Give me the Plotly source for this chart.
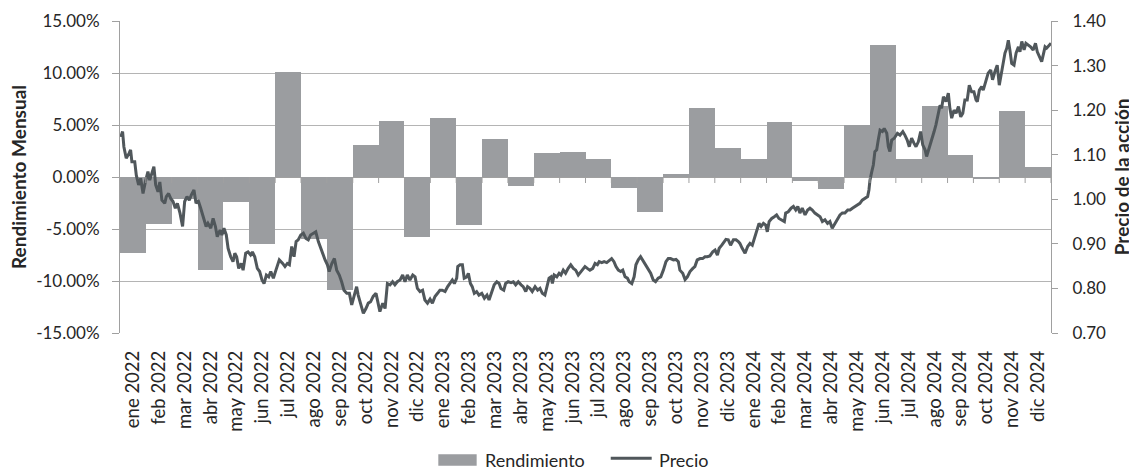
import plotly.graph_objects as go

meses = ["ene", "feb", "mar", "abr", "may", "jun", "jul", "ago", "sep", "oct", "nov", "dic"]
anios = [2022, 2023, 2024]
categorias = [f"{m} {a}" for a in anios for m in meses]

# Monthly return (%)
rendimiento = [-7.3, -4.5, -2.1, -8.9, -2.4, -6.4, 10.1, -6.0, -10.9, 3.1, 5.4, -5.8,
               5.7, -4.6, 3.7, -0.9, 2.3, 2.4, 1.7, -1.1, -3.4, 0.3, 6.6, 2.8,
               1.7, 5.3, -0.35, -1.2, 5.0, 12.7, 1.7, 6.8, 2.1, -0.1, 6.3, 1.0]

# Share price: time in months since start of 2022, and price
mes_precio = [0.03, 0.10, 0.15, 0.24, 0.35, 0.41, 0.46, 0.57, 0.63, 0.72, 0.80, 0.89, 0.98, 1.08, 1.15, 1.21,
              1.31, 1.38, 1.47, 1.54, 1.62, 1.73, 1.79, 1.88, 1.96, 2.05, 2.14, 2.22, 2.32, 2.42, 2.50, 2.59,
              2.68, 2.76, 2.86, 2.94, 3.02, 3.12, 3.22, 3.33, 3.40, 3.51, 3.60, 3.69, 3.76, 3.87, 3.94, 4.02,
              4.11, 4.18, 4.28, 4.37, 4.44, 4.51, 4.59, 4.69, 4.76, 4.86, 4.95, 5.05, 5.12, 5.21, 5.31, 5.40,
              5.49, 5.57, 5.66, 5.75, 5.83, 5.93, 6.03, 6.16, 6.29, 6.38, 6.47, 6.55, 6.64, 6.73, 6.81, 6.89,
              6.99, 7.09, 7.19, 7.28, 7.37, 7.47, 7.57, 7.67, 7.76, 7.84, 7.93, 8.02, 8.09, 8.19, 8.29, 8.38,
              8.48, 8.57, 8.66, 8.77, 8.87, 8.96, 9.05, 9.15, 9.21, 9.31, 9.41, 9.51, 9.60, 9.69, 9.79, 9.90,
              9.95, 10.05, 10.16, 10.25, 10.34, 10.44, 10.54, 10.63, 10.72, 10.83, 10.93, 11.02, 11.11, 11.21,
              11.32, 11.41, 11.50, 11.60, 11.70, 11.79, 11.89, 11.99, 12.08, 12.18, 12.28, 12.37, 12.46, 12.57,
              12.67, 12.76, 12.85, 12.93, 13.02, 13.06, 13.15, 13.24, 13.31, 13.41, 13.47, 13.55, 13.62, 13.70,
              13.79, 13.88, 13.99, 14.09, 14.19, 14.27, 14.37, 14.47, 14.57, 14.66, 14.73, 14.84, 14.91, 15.01,
              15.12, 15.21, 15.30, 15.40, 15.51, 15.59, 15.69, 15.76, 15.85, 15.94, 16.05, 16.15, 16.24, 16.33,
              16.43, 16.51, 16.59, 16.67, 16.72, 16.79, 16.89, 16.98, 17.05, 17.14, 17.23, 17.33, 17.43, 17.53,
              17.62, 17.72, 17.83, 17.92, 17.98, 18.07, 18.17, 18.28, 18.37, 18.46, 18.53, 18.63, 18.72, 18.82,
              18.92, 19.01, 19.10, 19.18, 19.27, 19.36, 19.44, 19.53, 19.62, 19.69, 19.79, 19.88, 19.95, 20.04,
              20.13, 20.24, 20.34, 20.43, 20.52, 20.62, 20.71, 20.81, 20.91, 21.01, 21.11, 21.20, 21.29, 21.40,
              21.50, 21.59, 21.65, 21.76, 21.85, 21.94, 22.04, 22.15, 22.23, 22.32, 22.43, 22.53, 22.62, 22.71,
              22.81, 22.92, 23.01, 23.10, 23.17, 23.27, 23.36, 23.43, 23.52, 23.61, 23.72, 23.82, 23.91, 23.97,
              24.06, 24.17, 24.27, 24.36, 24.45, 24.53, 24.62, 24.71, 24.79, 24.88, 24.97, 25.03, 25.10, 25.20,
              25.30, 25.39, 25.48, 25.59, 25.69, 25.74, 25.84, 25.95, 26.04, 26.13, 26.21, 26.29, 26.38, 26.49,
              26.59, 26.68, 26.77, 26.87, 26.98, 27.07, 27.16, 27.26, 27.36, 27.45, 27.54, 27.64, 27.75, 27.84,
              27.93, 28.03, 28.14, 28.23, 28.32, 28.42, 28.52, 28.61, 28.70, 28.81, 28.91, 28.96, 29.00, 29.07,
              29.13, 29.19, 29.26, 29.32, 29.39, 29.48, 29.55, 29.65, 29.71, 29.77, 29.84, 29.94, 30.06, 30.16,
              30.27, 30.35, 30.44, 30.52, 30.61, 30.70, 30.78, 30.87, 30.96, 31.04, 31.13, 31.19, 31.29, 31.39,
              31.48, 31.55, 31.64, 31.71, 31.77, 31.84, 31.94, 32.03, 32.09, 32.16, 32.25, 32.33, 32.42, 32.51,
              32.59, 32.67, 32.76, 32.84, 32.93, 33.02, 33.10, 33.15, 33.23, 33.32, 33.38, 33.49, 33.57, 33.67,
              33.74, 33.83, 33.92, 34.00, 34.09, 34.15, 34.22, 34.29, 34.35, 34.41, 34.48, 34.57, 34.65, 34.74,
              34.80, 34.87, 34.96, 35.03, 35.12, 35.21, 35.31, 35.40, 35.47, 35.57, 35.64, 35.70, 35.77, 35.83,
              35.93, 36.00]

precio = [1.140, 1.152, 1.118, 1.092, 1.103, 1.111, 1.084, 1.084, 1.054, 1.032, 1.047, 1.013, 1.039, 1.062, 1.043, 1.054,
          1.073, 1.032, 1.017, 1.039, 0.998, 0.991, 1.006, 1.013, 1.002, 0.995, 0.980, 0.991, 0.969, 0.939, 0.995, 1.006,
          0.998, 1.010, 1.021, 0.991, 0.998, 0.980, 0.961, 0.939, 0.946, 0.935, 0.957, 0.939, 0.916, 0.931, 0.920, 0.935,
          0.920, 0.890, 0.871, 0.860, 0.879, 0.871, 0.845, 0.856, 0.841, 0.879, 0.882, 0.875, 0.882, 0.871, 0.845, 0.838,
          0.819, 0.811, 0.830, 0.826, 0.838, 0.823, 0.841, 0.864, 0.856, 0.849, 0.856, 0.853, 0.894, 0.871, 0.905, 0.909,
          0.920, 0.924, 0.912, 0.909, 0.920, 0.924, 0.927, 0.905, 0.890, 0.875, 0.864, 0.853, 0.838, 0.856, 0.867, 0.841,
          0.830, 0.815, 0.796, 0.789, 0.789, 0.763, 0.782, 0.804, 0.785, 0.763, 0.744, 0.755, 0.767, 0.770, 0.782, 0.789,
          0.774, 0.748, 0.767, 0.755, 0.811, 0.808, 0.815, 0.808, 0.815, 0.819, 0.830, 0.815, 0.830, 0.819,
          0.830, 0.826, 0.800, 0.793, 0.796, 0.774, 0.767, 0.776, 0.767, 0.782, 0.789, 0.796, 0.796, 0.793,
          0.804, 0.811, 0.819, 0.811, 0.823, 0.849, 0.853, 0.853, 0.823, 0.826, 0.834, 0.811, 0.804, 0.789,
          0.793, 0.785, 0.789, 0.778, 0.785, 0.774, 0.793, 0.808, 0.815, 0.811, 0.800, 0.796, 0.811, 0.815,
          0.813, 0.815, 0.808, 0.815, 0.808, 0.804, 0.793, 0.804, 0.800, 0.793, 0.804, 0.796, 0.800, 0.789,
          0.785, 0.804, 0.823, 0.826, 0.811, 0.830, 0.826, 0.834, 0.830, 0.841, 0.834, 0.845, 0.853, 0.845,
          0.841, 0.830, 0.838, 0.845, 0.849, 0.845, 0.841, 0.845, 0.856, 0.853, 0.860, 0.858, 0.860, 0.858,
          0.862, 0.867, 0.860, 0.849, 0.841, 0.838, 0.841, 0.826, 0.823, 0.815, 0.811, 0.826, 0.853, 0.864,
          0.871, 0.860, 0.849, 0.841, 0.834, 0.819, 0.815, 0.823, 0.826, 0.841, 0.860, 0.867, 0.867, 0.864,
          0.865, 0.860, 0.841, 0.834, 0.820, 0.826, 0.838, 0.845, 0.849, 0.864, 0.867, 0.867, 0.871, 0.871,
          0.873, 0.882, 0.886, 0.875, 0.890, 0.897, 0.905, 0.910, 0.909, 0.897, 0.909, 0.909, 0.905, 0.901,
          0.890, 0.879, 0.894, 0.901, 0.897, 0.912, 0.931, 0.946, 0.939, 0.946, 0.942, 0.927, 0.950, 0.957,
          0.961, 0.965, 0.957, 0.954, 0.950, 0.969, 0.972, 0.980, 0.984, 0.976, 0.984, 0.969, 0.980, 0.965,
          0.976, 0.980, 0.976, 0.969, 0.965, 0.961, 0.950, 0.954, 0.946, 0.950, 0.935, 0.946, 0.957, 0.965,
          0.969, 0.969, 0.976, 0.976, 0.980, 0.984, 0.987, 0.991, 0.998, 1.002, 1.006, 1.021, 1.043, 1.062,
          1.077, 1.107, 1.111, 1.133, 1.155, 1.152, 1.159, 1.148, 1.118, 1.107, 1.133, 1.137, 1.148, 1.144,
          1.152, 1.144, 1.133, 1.118, 1.137, 1.126, 1.118, 1.129, 1.152, 1.122, 1.111, 1.096, 1.114, 1.137,
          1.152, 1.167, 1.197, 1.211, 1.204, 1.230, 1.219, 1.238, 1.204, 1.182, 1.200, 1.193, 1.208, 1.185,
          1.193, 1.223, 1.223, 1.256, 1.241, 1.241, 1.223, 1.219, 1.245, 1.253, 1.245, 1.268, 1.283, 1.290,
          1.268, 1.286, 1.301, 1.256, 1.283, 1.309, 1.328, 1.339, 1.357, 1.335, 1.305, 1.301, 1.328, 1.342,
          1.331, 1.354, 1.335, 1.350, 1.346, 1.342, 1.335, 1.350, 1.331, 1.316, 1.309, 1.324, 1.342, 1.339,
          1.346, 1.350]

pct_ticks = [-15, -10, -5, 0, 5, 10, 15]
pct_labels = [f"{v:.2f}%" for v in pct_ticks]
precio_ticks = [0.70, 0.80, 0.90, 1.00, 1.10, 1.20, 1.30, 1.40]
precio_labels = [f"{v:.2f}" for v in precio_ticks]

FONT = "Lato"
TXT = "#262626"
BAR = "#9b9da0"
LINE = "#50575b"
GRID = "#b4b4b4"
AX = "#a0a0a0"

fig = go.Figure()
fig.add_trace(go.Bar(x=categorias, y=rendimiento, name="Rendimiento",
                     marker=dict(color=BAR, line=dict(width=0)),
                     xaxis="x", yaxis="y"))
fig.add_trace(go.Scatter(x=mes_precio, y=precio, name="Precio", mode="lines",
                         line=dict(color=LINE, width=3),
                         xaxis="x2", yaxis="y2"))

# Category-axis tick marks on the 0% line at month boundaries (axis furniture)
shapes = [dict(type="line", xref="x2", yref="y", ysizemode="pixel", yanchor=0,
               x0=k, x1=k, y0=0, y1=-6, line=dict(color=AX, width=1), layer="above")
          for k in range(len(categorias) + 1)]

# Legend drawn as shapes + text below the plot (paper coordinates)
leg_y = -0.407
shapes += [
    dict(type="rect", xref="paper", yref="paper", x0=0.3419, x1=0.3831, y0=-0.4253, y1=-0.3888,
         fillcolor=BAR, line=dict(width=0)),
    dict(type="line", xref="paper", yref="paper", x0=0.5271, x1=0.5711, y0=-0.4016, y1=-0.4016,
         line=dict(color=LINE, width=3)),
]

fig.update_layout(
    width=1129, height=462,
    margin=dict(l=112, r=86, t=13, b=137, autoexpand=False),
    paper_bgcolor="white", plot_bgcolor="white",
    bargap=0,
    font=dict(family=FONT, size=16, color=TXT),
    showlegend=False,
    shapes=shapes,
    xaxis=dict(type="category", range=[-0.5, 35.5], tickangle=-90, ticks="",
               showgrid=False, showline=False, zeroline=False,
               tickfont=dict(family=FONT, size=18.5, color=TXT),
               ticklabelstandoff=13),
    xaxis2=dict(range=[0, 36], overlaying="x", showticklabels=False, ticks="",
                showgrid=False, showline=False, zeroline=False, visible=False),
    yaxis=dict(range=[-15, 15], tickvals=pct_ticks, ticktext=pct_labels,
               showgrid=True, gridcolor=GRID, gridwidth=1,
               zeroline=True, zerolinecolor=AX, zerolinewidth=1,
               showline=True, linecolor=AX, linewidth=1,
               ticks="outside", ticklen=7, tickcolor=AX,
               tickfont=dict(family=FONT, size=17, color=TXT),
               ticklabelstandoff=9),
    yaxis2=dict(range=[0.7, 1.4], tickvals=precio_ticks, ticktext=precio_labels,
                overlaying="y", side="right", anchor="x",
                showgrid=False, zeroline=False,
                showline=True, linecolor=AX, linewidth=1,
                ticks="outside", ticklen=6, tickcolor=AX,
                tickfont=dict(family=FONT, size=17, color=TXT),
                ticklabelstandoff=11),
    annotations=[
        dict(text="<b>Rendimiento Mensual</b>", xref="paper", yref="paper",
             x=-0.1096, y=0.5, xanchor="center", yanchor="middle", textangle=-90,
             showarrow=False, font=dict(family=FONT, size=19, color=TXT)),
        dict(text="<b>Precio de la acción</b>", xref="paper", yref="paper",
             x=1.0755, y=0.5, xanchor="center", yanchor="middle", textangle=-90,
             showarrow=False, font=dict(family=FONT, size=19, color=TXT)),
        dict(text="Rendimiento", xref="paper", yref="paper", x=0.3899, y=leg_y,
             xanchor="left", yanchor="middle", showarrow=False,
             font=dict(family=FONT, size=18, color=TXT)),
        dict(text="Precio", xref="paper", yref="paper", x=0.5765, y=leg_y,
             xanchor="left", yanchor="middle", showarrow=False,
             font=dict(family=FONT, size=18, color=TXT)),
    ],
)

fig.write_html("out.html")
